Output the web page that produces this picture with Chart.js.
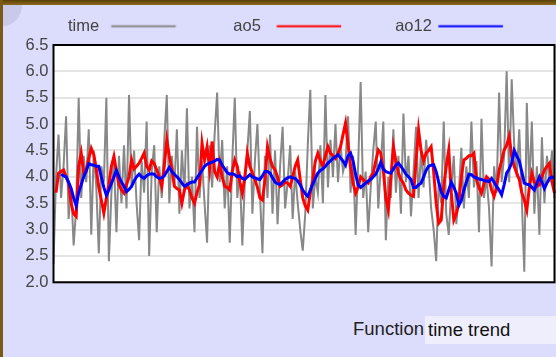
<!DOCTYPE html>
<html>
<head>
<meta charset="utf-8">
<script src="https://cdn.jsdelivr.net/npm/chart.js@4.4.1/dist/chart.umd.min.js"></script>
<style>
  html, body { margin: 0; padding: 0; }
  body { width: 556px; height: 357px; overflow: hidden; background: #dcdcfc; position: relative;
         font-family: 'Liberation Sans', Arial, sans-serif; }
  #topbar { position: absolute; left: 0; top: 0; width: 556px; height: 5px; background: linear-gradient(#5a4008, #8c6a1a); z-index: 3; }
  #leftbar { position: absolute; left: 0; top: 0; width: 3px; height: 357px; background: #7a5a12; z-index: 3; }
  #corner { position: absolute; left: 3px; top: 5px; width: 19px; height: 21px; background: #c9c9e9; border-bottom-right-radius: 100%; z-index: 2; }
  #c { position: absolute; left: 0; top: 0; z-index: 1; }
  #fn { position: absolute; left: 353px; top: 319px; font-size: 18.5px; line-height: 20px; color: #222; z-index: 2; }
  #box { position: absolute; left: 425px; top: 316px; width: 131px; height: 28px; background: #eeeefc; z-index: 2; }
  #box span { position: absolute; left: 3px; top: 4px; font-size: 18.5px; line-height: 20px; color: #111; }
</style>
</head>
<body>
<div id="topbar"></div>
<div id="leftbar"></div>
<div id="corner"></div>
<canvas id="c" width="568" height="300"></canvas>
<div id="fn">Function</div>
<div id="box"><span>time trend</span></div>
<script>
// ---- data ----
const seriesNames = ['time', 'ao5', 'ao12'];

const timeValues = [
  2.35, 4.0, 4.8, 3.6, 4.2, 5.15, 3.2, 3.8, 2.7, 3.4,
  5.5, 3.6, 4.4, 3.9, 4.9, 2.9, 4.5, 3.8, 2.55, 4.2,
  3.9, 5.5, 2.4, 3.7, 4.3, 2.95, 4.4, 3.5, 4.6, 3.4,
  5.55, 3.8, 4.5, 3.5, 2.8, 4.3, 3.7, 5.05, 2.5, 4.1,
  4.6, 2.95, 4.2, 3.6, 4.7, 5.55, 3.5, 4.4, 3.8, 4.9,
  3.3, 4.5, 3.7, 5.3, 3.4, 4.0, 2.95, 4.95, 3.6, 4.3,
  3.5, 2.75, 4.6, 3.8, 4.8, 5.6, 3.9, 4.7, 3.4, 4.2,
  2.75, 4.3, 5.5, 3.6, 4.1, 2.7, 3.9, 4.5, 5.25, 3.3,
  4.3, 5.0, 3.7, 2.55, 4.4, 3.6, 4.8, 3.3, 4.5, 3.1,
  4.2, 4.95, 3.4, 3.9, 4.6, 3.2, 4.1, 3.5, 3.0, 2.6,
  3.3, 4.6, 5.65, 3.4, 4.0, 3.7, 4.6, 3.5, 5.55, 3.8,
  4.7, 4.0, 5.0, 3.9, 4.6, 4.1, 4.3, 5.15, 3.7, 4.4,
  2.9, 4.2, 5.8, 3.6, 4.1, 2.95, 3.8, 4.5, 5.05, 3.4,
  4.2, 5.05, 2.8, 4.0, 3.6, 4.9, 3.7, 4.4, 3.3, 5.2,
  3.9, 4.4, 3.25, 4.1, 4.95, 3.6, 4.5, 3.8, 4.7, 4.2,
  3.4, 3.0, 2.4, 3.9, 3.5, 5.05, 3.3, 2.9, 3.8, 4.4,
  3.1, 3.7, 4.55, 3.4, 4.2, 3.6, 5.05, 3.8, 4.3, 2.95,
  5.1, 3.6, 4.0, 3.4, 2.3, 4.2, 3.7, 5.6, 3.9, 4.4,
  6.0, 3.9, 5.85, 4.6, 4.0, 4.9, 3.6, 2.2, 5.4, 3.8,
  5.05, 3.3, 4.2, 2.9, 4.75, 3.5, 4.4, 3.9, 4.5, 3.6
];

const ao5Values = [
  null, 3.7, 4.07, 4.1, 4.13, 4.0, 3.88, 3.5, 3.3, 3.25,
  4.2, 4.45, 4.07, 4.1, 4.35, 4.54, 4.42, 4.15, 3.8, 3.56,
  3.31, 3.6, 3.85, 4.2, 4.39, 4.1, 3.85, 3.75, 3.69, 3.85,
  4.0, 4.32, 4.15, 4.2, 4.26, 4.35, 4.45, 4.2, 4.13, 4.3,
  4.25, 4.13, 4.0, 3.82, 4.2, 4.7, 4.4, 4.15, 3.82, 3.78,
  3.75, 3.5, 3.75, 3.85, 3.75, 3.6, 3.5, 3.7, 3.85, 4.64,
  4.32, 4.57, 4.15, 4.67, 4.1, 4.0, 4.26, 4.0, 3.82, 3.8,
  3.75, 4.1, 4.32, 4.2, 3.9, 3.69, 4.0, 4.45, 4.2, 4.07,
  3.95, 3.8, 3.6, 3.56, 3.95, 4.57, 4.35, 4.2, 4.13, 4.0,
  3.82, 3.85, 3.9, 3.88, 3.82, 4.0, 4.2, 4.32, 3.95, 3.6,
  3.45, 3.37, 3.7, 3.95, 4.3, 4.45, 4.3, 4.2, 4.4, 4.57,
  4.45, 4.4, 4.35, 4.45, 4.57, 4.8, 5.02, 4.6, 4.2, 3.88,
  3.69, 3.8, 4.0, 3.95, 3.9, 3.88, 4.0, 4.07, 4.3, 4.51,
  4.45, 4.13, 3.6, 3.37, 4.0, 4.57, 4.3, 4.07, 3.95, 3.88,
  3.75, 3.69, 3.65, 3.63, 4.3, 4.89, 4.5, 4.3, 4.45, 4.5,
  4.57, 4.1, 3.5, 3.12, 3.18, 3.82, 4.2, 4.51, 3.7, 3.18,
  3.3, 3.5, 4.0, 4.32, 4.35, 4.4, 4.4, 4.45, 3.95, 3.8,
  3.69, 3.88, 4.0, 3.95, 3.75, 3.63, 3.8, 4.13, 4.3, 4.51,
  4.6, 4.77, 4.4, 4.2, 4.07, 3.95, 3.7, 3.56, 3.37, 3.8,
  4.07, 3.9, 3.82, 3.85, 4.0, 4.13, 4.2, 4.26, 3.9, 3.69
];

const ao12Values = [
  null, null, null, 4.05, 4.02, 4.0, 3.9, 3.78, 3.6, 3.45,
  3.7, 3.85, 4.0, 4.12, 4.25, 4.23, 4.22, 4.2, 4.2, 4.0,
  3.8, 3.65, 3.75, 3.88, 4.0, 4.12, 4.0, 3.9, 3.82, 3.72,
  3.76, 3.82, 3.92, 4.0, 4.05, 4.0, 3.97, 4.02, 4.05, 4.06,
  4.05, 4.0, 3.97, 3.98, 4.02, 4.1, 4.18, 4.1, 4.05, 4.0,
  3.95, 3.88, 3.82, 3.85, 3.88, 3.9, 3.9, 3.98, 4.05, 4.12,
  4.2, 4.24, 4.26, 4.28, 4.3, 4.33, 4.32, 4.22, 4.15, 4.08,
  4.05, 4.06, 4.04, 4.0, 4.02, 3.97, 3.95, 4.0, 4.04, 4.0,
  3.98, 3.96, 3.95, 4.02, 4.1, 4.1, 4.07, 3.98, 3.9, 3.87,
  3.85, 3.9, 3.95, 3.98, 4.0, 3.98, 3.97, 3.92, 3.85, 3.75,
  3.68, 3.63, 3.75, 3.86, 3.97, 4.07, 4.12, 4.15, 4.2, 4.26,
  4.3, 4.35, 4.38, 4.42, 4.36, 4.3, 4.22, 4.4, 4.45, 4.3,
  4.05, 3.85, 3.8, 3.84, 3.88, 3.92, 3.95, 4.0, 4.05, 4.15,
  4.28, 4.15, 4.1, 4.08, 4.07, 4.15, 4.22, 4.26, 4.2, 4.13,
  4.05, 4.0, 3.95, 3.8, 3.8, 3.85, 3.88, 4.0, 4.12, 4.2,
  4.22, 4.23, 4.1, 3.9, 3.72, 3.63, 3.6, 3.75, 3.9, 3.8,
  3.69, 3.46, 3.55, 3.75, 3.9, 4.05, 4.04, 4.0, 3.98, 3.96,
  3.95, 3.93, 3.92, 3.91, 3.97, 3.9, 3.82, 3.75, 3.66, 3.85,
  4.07, 4.15, 4.26, 4.5, 4.4, 4.3, 4.1, 3.88, 3.86, 3.85,
  3.8, 3.75, 3.88, 4.0, 3.9, 3.78, 3.88, 3.97, 4.0, 3.98
];

const yMin = 2.0, yMax = 6.5, yStep = 0.5;
const yTickLabels = ['2.0', '2.5', '3.0', '3.5', '4.0', '4.5', '5.0', '5.5', '6.0', '6.5'];

// categories: solve numbers
const categories = timeValues.map((_, i) => String(i + 1));

// ---- styling ----
const FONT_FAMILY = "'Liberation Sans', Arial, sans-serif";
const FONT_SIZE = 16.5;
const BOX_W = 116, LINE_LEN = 64.5, TEXT_TO_LINE = 43.3, IMG_W = 130;

function makeMarker(text, color, lw) {
  const m = document.createElement('canvas');
  m.width = IMG_W; m.height = 6;
  const mctx = m.getContext('2d');
  mctx.font = 'normal ' + FONT_SIZE + 'px ' + FONT_FAMILY;
  const tw = mctx.measureText(text).width;
  const start = Math.max(0, IMG_W / 2 + TEXT_TO_LINE - tw - FONT_SIZE / 2 - BOX_W / 2);
  mctx.strokeStyle = color;
  mctx.lineWidth = lw;
  mctx.beginPath();
  mctx.moveTo(start, 2.5);
  mctx.lineTo(start + LINE_LEN, 2.5);
  mctx.stroke();
  return m;
}

const frame = {
  id: 'plotFrame',
  beforeDraw(chart) {
    const {ctx, chartArea: a} = chart;
    ctx.save();
    ctx.fillStyle = '#ffffff';
    ctx.fillRect(a.left, a.top, a.right - a.left, a.bottom - a.top);
    ctx.restore();
  },
  afterDatasetsDraw(chart) {
    const {ctx, chartArea: a} = chart;
    ctx.save();
    ctx.strokeStyle = '#000';
    ctx.lineWidth = 2;
    ctx.strokeRect(a.left, a.top, a.right - a.left, a.bottom - a.top);
    ctx.restore();
  }
};

new Chart(document.getElementById('c'), {
  type: 'line',
  data: {
    labels: categories,
    datasets: [
      { label: seriesNames[0], data: timeValues, borderColor: '#888888', backgroundColor: '#888888',
        borderWidth: 2, order: 3, pointRadius: 0, pointStyle: makeMarker(seriesNames[0], '#888888', 2) },
      { label: seriesNames[1], data: ao5Values, borderColor: '#ff0000', backgroundColor: '#ff0000',
        borderWidth: 3, order: 2, pointRadius: 0, pointStyle: makeMarker(seriesNames[1], '#ff0000', 2) },
      { label: seriesNames[2], data: ao12Values, borderColor: '#0000ff', backgroundColor: '#0000ff',
        borderWidth: 3, order: 1, pointRadius: 0, pointStyle: makeMarker(seriesNames[2], '#0000ff', 2) }
    ]
  },
  options: {
    responsive: false,
    animation: false,
    devicePixelRatio: 1,
    layout: { padding: { top: 8.5, left: 0, right: 1.9, bottom: 17.7 } },
    plugins: {
      legend: {
        position: 'top',
        align: 'start',
        rtl: true,
        labels: {
          usePointStyle: true,
          pointStyleWidth: BOX_W,
          padding: 10,
          color: '#444',
          textAlign: 'left',
          font: { family: FONT_FAMILY, size: FONT_SIZE }
        }
      },
      tooltip: { enabled: false }
    },
    scales: {
      x: { display: false },
      y: {
        min: yMin, max: yMax,
        ticks: {
          stepSize: yStep, padding: 5, color: '#444',
          font: { family: FONT_FAMILY, size: FONT_SIZE },
          callback: (v) => { const i = Math.round((v - yMin) / yStep); return yTickLabels[i] ?? ''; }
        },
        grid: { color: '#e5e5e5', lineWidth: 2, drawTicks: false },
        border: { display: false },
        afterFit(s) { s.width = 53.5; }
      },
      yR: {
        position: 'right', display: true,
        grid: { display: false, drawTicks: false },
        ticks: { display: false },
        border: { display: false },
        afterFit(s) { s.width = 11.6; }
      }
    }
  },
  plugins: [frame]
});
</script>
</body>
</html>
